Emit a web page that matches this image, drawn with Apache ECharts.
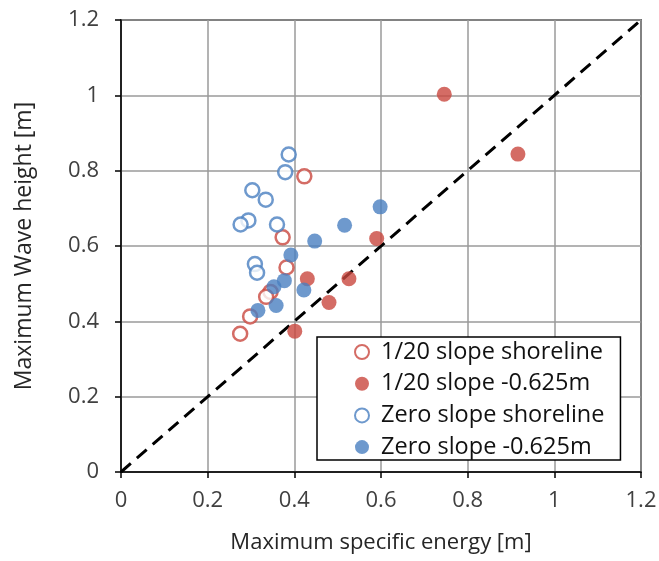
<!DOCTYPE html>
<html>
<head>
<meta charset="utf-8">
<script src="https://cdn.jsdelivr.net/npm/echarts@6/dist/echarts.min.js"></script>
<style>html,body{margin:0;padding:0;background:#fff;}#c{width:659px;height:561px;}</style>
</head>
<body>
<div id="c"></div>
<script>
const seriesNames = ['1/20 slope shoreline', '1/20 slope -0.625m', 'Zero slope shoreline', 'Zero slope -0.625m'];
const slope20Shoreline = [[0.423,0.785],[0.373,0.623],[0.382,0.543],[0.345,0.478],[0.335,0.465],[0.298,0.413],[0.275,0.367]];
const slope20Deep = [[0.746,1.003],[0.916,0.844],[0.590,0.620],[0.526,0.513],[0.430,0.513],[0.480,0.450],[0.401,0.374]];
const zeroShoreline = [[0.387,0.843],[0.379,0.796],[0.303,0.748],[0.334,0.723],[0.294,0.668],[0.276,0.657],[0.360,0.657],[0.309,0.552],[0.314,0.529]];
const zeroDeep = [[0.598,0.704],[0.516,0.655],[0.447,0.613],[0.392,0.576],[0.377,0.508],[0.353,0.492],[0.422,0.483],[0.358,0.442],[0.316,0.429]];
const diagonal = [[0,0],[1.2,1.2]];
const xTitle = 'Maximum specific energy [m]';
const yTitle = 'Maximum Wave height [m]';

const RED = '#C9473F', BLUE = '#4A7FC1';
const FONT = 'Open Sans';
const chart = echarts.init(document.getElementById('c'), null, {renderer: 'canvas'});
function openStyle(c){ return {color:'#fff', borderColor:c, borderWidth:2.5}; }
chart.setOption({
  animation: false,
  backgroundColor: '#fff',
  textStyle: {fontFamily: FONT},
  grid: {left:121, right:18, top:20, bottom:89, outerBoundsMode:'none', containLabel:false,
         show:true, borderColor:'#000', borderWidth:1.5, backgroundColor:'transparent'},
  xAxis: {
    type:'value', min:0, max:1.2, interval:0.2,
    name: xTitle, nameLocation:'middle', nameGap:60,
    nameTextStyle:{fontSize:22, color:'#262626', fontFamily:FONT},
    axisLine:{show:true, lineStyle:{color:'#000', width:1.5}},
    axisTick:{show:true, length:6, lineStyle:{color:'#000', width:1.5}},
    axisLabel:{fontSize:22, color:'#404040', margin:18, fontFamily:FONT},
    splitLine:{show:true, lineStyle:{color:'#9a9a9a', width:1.5}}
  },
  yAxis: {
    type:'value', min:0, max:1.2, interval:0.2,
    name: yTitle, nameLocation:'middle', nameGap:85, nameRotate:90,
    nameTextStyle:{fontSize:23, color:'#262626', fontFamily:FONT},
    axisLine:{show:true, lineStyle:{color:'#000', width:1.5}},
    axisTick:{show:true, length:6, lineStyle:{color:'#000', width:1.5}},
    axisLabel:{fontSize:22, color:'#404040', margin:22, fontFamily:FONT},
    splitLine:{show:true, lineStyle:{color:'#9a9a9a', width:1.5}}
  },
  legend: {
    orient:'vertical', left:317, top:337,
    data: seriesNames,
    backgroundColor:'#fff', borderColor:'#000', borderWidth:1.5,
    padding:[3, 16, 1, 37],
    itemGap:7.7, itemWidth:14, itemHeight:14,
    textStyle:{fontSize:23.5, lineHeight:24, color:'#111', fontFamily:FONT, padding:[0,0,0,7]}
  },
  series: [
    {type:'line', data:diagonal, symbol:'none', silent:true, z:1,
     lineStyle:{color:'#000', width:3, type:[13,8]}},
    {name:seriesNames[0], type:'scatter', data:slope20Shoreline, symbol:'circle', symbolSize:14, itemStyle:openStyle(RED), z:3},
    {name:seriesNames[1], type:'scatter', data:slope20Deep, symbol:'circle', symbolSize:15, itemStyle:{color:RED}, z:3},
    {name:seriesNames[2], type:'scatter', data:zeroShoreline, symbol:'circle', symbolSize:14, itemStyle:openStyle(BLUE), z:3},
    {name:seriesNames[3], type:'scatter', data:zeroDeep, symbol:'circle', symbolSize:15, itemStyle:{color:BLUE}, z:4}
  ]
});
</script>
</body>
</html>
